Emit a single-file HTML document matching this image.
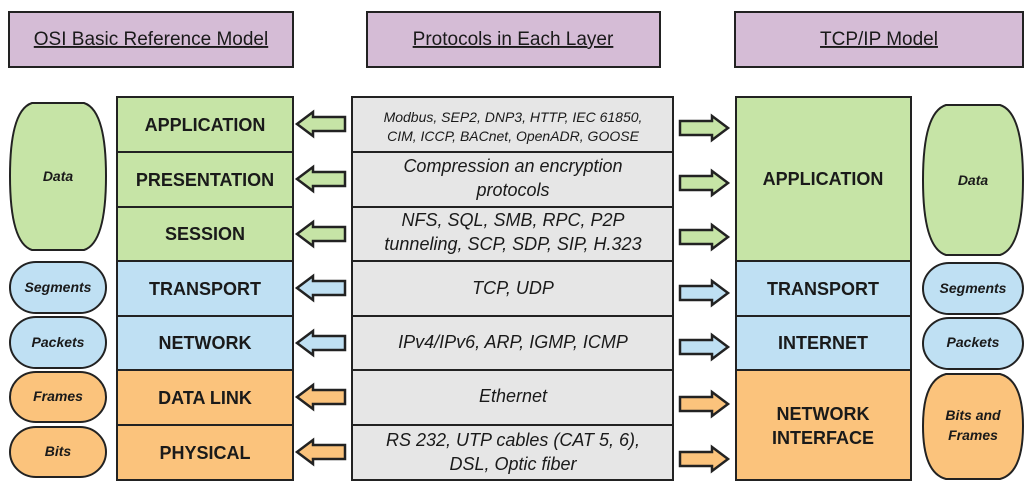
<!DOCTYPE html>
<html><head><meta charset="utf-8"><style>
html,body{margin:0;padding:0;background:#fff;width:1032px;height:490px;overflow:hidden}
svg text{font-family:"Liberation Sans",Arial,sans-serif;fill:#1a1a1a}
.b{font-weight:bold;font-size:18px}
.i{font-style:italic;font-size:18px}
.pi{font-style:italic;font-weight:bold;font-size:14px}
</style></head><body>
<svg width="1032" height="490" viewBox="0 0 1032 490" xmlns="http://www.w3.org/2000/svg">
<defs>
<g id="la"><path d="M0 0 L16 -12 L16 -7 L48 -7 L48 7 L16 7 L16 12 Z" stroke="#222" stroke-width="2.5" stroke-linejoin="miter"/></g>
<g id="ra"><path d="M48 0 L32 -12 L32 -7 L0 -7 L0 7 L32 7 L32 12 Z" stroke="#222" stroke-width="2.5"/></g>
</defs>
<g stroke="#222" stroke-width="2" fill="#d5bcd6">
<rect x="9" y="12" width="284" height="55"/>
<rect x="367" y="12" width="293" height="55"/>
<rect x="735" y="12" width="288" height="55"/>
</g>
<g font-size="19" text-anchor="middle">
<text x="151" y="45" text-decoration="underline">OSI Basic Reference Model</text>
<text x="513" y="45" text-decoration="underline">Protocols in Each Layer</text>
<text x="879" y="45" text-decoration="underline">TCP/IP Model</text>
</g>
<g stroke="#222" stroke-width="2">
<rect x="117" y="97" width="176" height="55" fill="#c6e4a6"/>
<rect x="117" y="152" width="176" height="55" fill="#c6e4a6"/>
<rect x="117" y="207" width="176" height="54" fill="#c6e4a6"/>
<rect x="117" y="261" width="176" height="55" fill="#bfe0f3"/>
<rect x="117" y="316" width="176" height="54" fill="#bfe0f3"/>
<rect x="117" y="370" width="176" height="55" fill="#fbc37c"/>
<rect x="117" y="425" width="176" height="55" fill="#fbc37c"/>
<g fill="#e6e6e6">
<rect x="352" y="97" width="321" height="55"/>
<rect x="352" y="152" width="321" height="55"/>
<rect x="352" y="207" width="321" height="54"/>
<rect x="352" y="261" width="321" height="55"/>
<rect x="352" y="316" width="321" height="54"/>
<rect x="352" y="370" width="321" height="55"/>
<rect x="352" y="425" width="321" height="55"/>
</g>
<rect x="736" y="97" width="175" height="164" fill="#c6e4a6"/>
<rect x="736" y="261" width="175" height="55" fill="#bfe0f3"/>
<rect x="736" y="316" width="175" height="54" fill="#bfe0f3"/>
<rect x="736" y="370" width="175" height="110" fill="#fbc37c"/>
<path d="M32,103 L84,103 Q106,110 106,176 Q106,243 84,250 L32,250 Q10,243 10,176 Q10,110 32,103 Z" fill="#c6e4a6"/>
<rect x="10" y="262" width="96" height="51" rx="26" fill="#bfe0f3"/>
<rect x="10" y="317" width="96" height="51" rx="26" fill="#bfe0f3"/>
<rect x="10" y="372" width="96" height="50" rx="26" fill="#fbc37c"/>
<rect x="10" y="427" width="96" height="50" rx="26" fill="#fbc37c"/>
<path d="M946,105 L1000,105 Q1023,112 1023,180 Q1023,248 1000,255 L946,255 Q923,248 923,180 Q923,112 946,105 Z" fill="#c6e4a6"/>
<rect x="923" y="263" width="100" height="51" rx="26" fill="#bfe0f3"/>
<rect x="923" y="318" width="100" height="51" rx="26" fill="#bfe0f3"/>
<path d="M946,374 L1000,374 Q1023,380 1023,426 Q1023,473 1000,479 L946,479 Q923,473 923,426 Q923,380 946,374 Z" fill="#fbc37c"/>
</g>
<use href="#la" x="297" y="124" fill="#c6e4a6"/>
<use href="#la" x="297" y="179" fill="#c6e4a6"/>
<use href="#la" x="297" y="234" fill="#c6e4a6"/>
<use href="#la" x="297" y="288" fill="#bfe0f3"/>
<use href="#la" x="297" y="343" fill="#bfe0f3"/>
<use href="#la" x="297" y="397" fill="#fbc37c"/>
<use href="#la" x="297" y="452" fill="#fbc37c"/>
<use href="#ra" x="680" y="128" fill="#c6e4a6"/>
<use href="#ra" x="680" y="183" fill="#c6e4a6"/>
<use href="#ra" x="680" y="237" fill="#c6e4a6"/>
<use href="#ra" x="680" y="293" fill="#bfe0f3"/>
<use href="#ra" x="680" y="347" fill="#bfe0f3"/>
<use href="#ra" x="680" y="404" fill="#fbc37c"/>
<use href="#ra" x="680" y="459" fill="#fbc37c"/>
<g text-anchor="middle">
<text class="b" x="205" y="131">APPLICATION</text>
<text class="b" x="205" y="186">PRESENTATION</text>
<text class="b" x="205" y="240">SESSION</text>
<text class="b" x="205" y="295">TRANSPORT</text>
<text class="b" x="205" y="349">NETWORK</text>
<text class="b" x="205" y="404">DATA LINK</text>
<text class="b" x="205" y="459">PHYSICAL</text>
<text class="b" x="823" y="185">APPLICATION</text>
<text class="b" x="823" y="295">TRANSPORT</text>
<text class="b" x="823" y="349">INTERNET</text>
<text class="b" x="823" y="420">NETWORK</text>
<text class="b" x="823" y="444">INTERFACE</text>
<text class="i" x="513" y="122" style="font-size:14px">Modbus, SEP2, DNP3, HTTP, IEC 61850,</text>
<text class="i" x="513" y="141" style="font-size:14px">CIM, ICCP, BACnet, OpenADR, GOOSE</text>
<text class="i" x="513" y="172">Compression an encryption</text>
<text class="i" x="513" y="196">protocols</text>
<text class="i" x="513" y="226">NFS, SQL, SMB, RPC, P2P</text>
<text class="i" x="513" y="250">tunneling, SCP, SDP, SIP, H.323</text>
<text class="i" x="513" y="294">TCP, UDP</text>
<text class="i" x="513" y="348">IPv4/IPv6, ARP, IGMP, ICMP</text>
<text class="i" x="513" y="402">Ethernet</text>
<text class="i" x="513" y="446">RS 232, UTP cables (CAT 5, 6),</text>
<text class="i" x="513" y="470">DSL, Optic fiber</text>
<text class="pi" x="58" y="181">Data</text>
<text class="pi" x="58" y="292">Segments</text>
<text class="pi" x="58" y="347">Packets</text>
<text class="pi" x="58" y="401">Frames</text>
<text class="pi" x="58" y="456">Bits</text>
<text class="pi" x="973" y="185">Data</text>
<text class="pi" x="973" y="293">Segments</text>
<text class="pi" x="973" y="347">Packets</text>
<text class="pi" x="973" y="420">Bits and</text>
<text class="pi" x="973" y="440">Frames</text>
</g>
</svg>
</body></html>
